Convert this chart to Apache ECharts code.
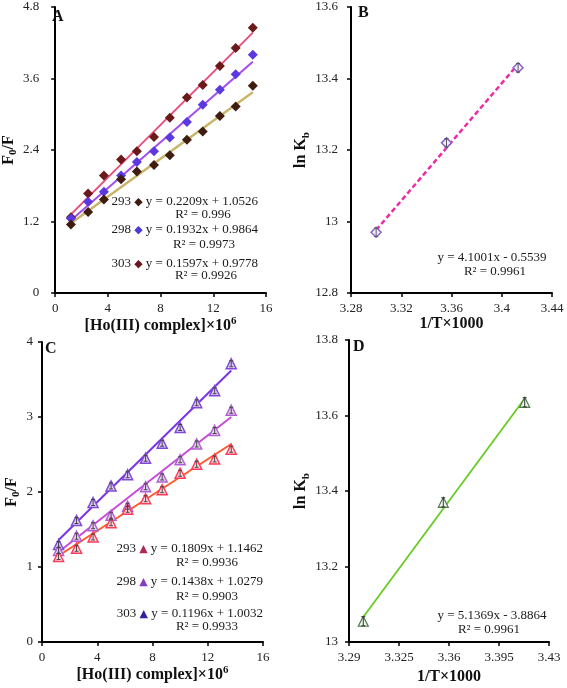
<!DOCTYPE html>
<html>
<head>
<meta charset="utf-8">
<style>html,body{margin:0;padding:0;background:#fff}#c{width:567px;height:688px}</style>
<script src="https://cdn.jsdelivr.net/npm/echarts@6/dist/echarts.min.js"></script>
</head>
<body>
<div id="c"></div>
<script>
// ---------- Panel A data ----------
const xA = [1.2, 2.5, 3.7, 5, 6.2, 7.5, 8.7, 10, 11.2, 12.5, 13.7, 15];
const yA293 = [1.27, 1.67, 1.97, 2.24, 2.38, 2.62, 2.94, 3.28, 3.49, 3.81, 4.11, 4.45];
const yA298 = [1.25, 1.53, 1.70, 1.97, 2.20, 2.38, 2.61, 2.87, 3.16, 3.41, 3.67, 4.00];
const yA303 = [1.15, 1.36, 1.57, 1.91, 2.04, 2.15, 2.31, 2.57, 2.71, 2.97, 3.13, 3.48];
const fitA293 = [[1.2, 1.32], [15, 4.37]];
const fitA298 = [[1.2, 1.22], [15, 3.88]];
const fitA303 = [[1.2, 1.17], [15, 3.37]];
const eqA = ['y = 0.2209x + 1.0526', 'y = 0.1932x + 0.9864', 'y = 0.1597x + 0.9778'];
const r2A = ['R² = 0.996', 'R² = 0.9973', 'R² = 0.9926'];
// ---------- Panel B data ----------
const xB = [3.300, 3.356, 3.413];
const yB = [12.97, 13.22, 13.43];
const errB = [0.012, 0.012, 0.012];
const fitB = [[3.300, 12.976], [3.413, 13.44]];
const eqB = ['y = 4.1001x - 0.5539', 'R² = 0.9961'];
// ---------- Panel C data ----------
const xC = [1.2, 2.5, 3.7, 5, 6.2, 7.5, 8.7, 10, 11.2, 12.5, 13.7];
const yC293 = [1.30, 1.62, 1.86, 2.08, 2.23, 2.45, 2.65, 2.86, 3.19, 3.35, 3.71];
const yC298 = [1.22, 1.41, 1.55, 1.69, 1.81, 2.07, 2.20, 2.43, 2.64, 2.82, 3.09];
const yC303 = [1.14, 1.25, 1.40, 1.59, 1.77, 1.91, 2.03, 2.25, 2.37, 2.44, 2.57];
const errC = [0.04, 0.04, 0.04, 0.04, 0.04, 0.04, 0.04, 0.04, 0.04, 0.04, 0.04];
const fitC293 = [[1.2, 1.36], [13.7, 3.62]];
const fitC298 = [[1.2, 1.20], [13.7, 3.00]];
const fitC303 = [[1.2, 1.15], [13.7, 2.64]];
const eqC = ['y = 0.1809x + 1.1462', 'y = 0.1438x + 1.0279', 'y = 0.1196x + 1.0032'];
const r2C = ['R² = 0.9936', 'R² = 0.9903', 'R² = 0.9933'];
// ---------- Panel D data ----------
const xD = [3.300, 3.356, 3.413];
const yD = [13.055, 13.37, 13.635];
const errD = [0.012, 0.012, 0.012];
const fitD = [[3.300, 13.066], [3.413, 13.645]];
const eqD = ['y = 5.1369x - 3.8864', 'R² = 0.9961'];
const temps = ['293', '298', '303'];

const FF = 'Liberation Serif, Times New Roman, serif';
const zip = (xs, ys) => xs.map((x, i) => [x, ys[i]]);

function xAx(gi, min, max, interval, gap, nameRich) {
  return {
    gridIndex: gi, type: 'value', min, max, interval,
    name: nameRich, nameLocation: 'middle', nameGap: gap,
    nameTextStyle: {
      rich: {
        m: {fontFamily: FF, fontWeight: 'bold', fontSize: 16, color: '#111', lineHeight: 20},
        p: {fontFamily: FF, fontWeight: 'bold', fontSize: 11, color: '#111', lineHeight: 20, verticalAlign: 'top'}
      }
    },
    axisLine: {show: true, onZero: false, lineStyle: {color: '#000', width: 2}},
    axisTick: {show: true, length: 4, lineStyle: {color: '#000', width: 1.5}},
    splitLine: {show: false},
    axisLabel: {fontFamily: FF, fontSize: 13, color: '#222', margin: 9}
  };
}
function yAx(gi, min, max, interval, gap, nameRich, lblMargin) {
  return {
    gridIndex: gi, type: 'value', min, max, interval,
    name: nameRich, nameLocation: 'middle', nameGap: gap, nameRotate: 90,
    nameTextStyle: {
      rich: {
        m: {fontFamily: FF, fontWeight: 'bold', fontSize: 16, color: '#111', lineHeight: 20},
        s: {fontFamily: FF, fontWeight: 'bold', fontSize: 11, color: '#111', lineHeight: 20, verticalAlign: 'bottom'}
      }
    },
    axisLine: {show: true, onZero: false, lineStyle: {color: '#000', width: 2}},
    axisTick: {show: true, length: 4, lineStyle: {color: '#000', width: 1.5}},
    splitLine: {show: false},
    axisLabel: {fontFamily: FF, fontSize: 13, color: '#222', margin: lblMargin}
  };
}
function pts(gi, xs, ys, symbol, size, fill, stroke, bw) {
  return {
    type: 'scatter', xAxisIndex: gi, yAxisIndex: gi, data: zip(xs, ys),
    symbol, symbolSize: size, z: 4,
    itemStyle: {color: fill, borderColor: stroke, borderWidth: bw, opacity: 1}
  };
}
function fit(gi, data, color, width, type) {
  return {
    type: 'line', xAxisIndex: gi, yAxisIndex: gi, data, showSymbol: false, symbol: 'none',
    lineStyle: {color, width, type: type || 'solid'}, z: 3, silent: true
  };
}
function errs(gi, xs, ys, es, color) {
  return {
    type: 'custom', xAxisIndex: gi, yAxisIndex: gi, z: 6, silent: true,
    data: xs.map((x, i) => [x, ys[i] - es[i], ys[i] + es[i]]),
    renderItem: (params, api) => {
      const lo = api.coord([api.value(0), api.value(1)]);
      const hi = api.coord([api.value(0), api.value(2)]);
      return {type: 'group', children: [
        {type: 'line', shape: {x1: lo[0], y1: lo[1], x2: hi[0], y2: hi[1]}, style: {stroke: color, lineWidth: 1}},
        {type: 'line', shape: {x1: lo[0] - 2, y1: lo[1], x2: lo[0] + 2, y2: lo[1]}, style: {stroke: color, lineWidth: 1}},
        {type: 'line', shape: {x1: hi[0] - 2, y1: hi[1], x2: hi[0] + 2, y2: hi[1]}, style: {stroke: color, lineWidth: 1}}
      ]};
    }
  };
}

function txt(x, y, text, align, extra) {
  return {type: 'text', x, y, z: 20, style: Object.assign({
    text, fontFamily: FF, fontSize: 13, fill: '#1a1a1a', align: align, verticalAlign: 'middle'
  }, extra || {})};
}
function letter(x, y, t) {
  return {type: 'text', x, y, z: 20, style: {text: t, fontFamily: FF, fontSize: 16, fontWeight: 'bold', fill: '#111', align: 'left', verticalAlign: 'middle'}};
}
function legLine(xr, y, t, sym, symColor, eq) {
  return {type: 'text', x: xr, y, z: 20, style: {
    text: t + ' {k|' + sym + '} ' + eq, fontFamily: FF, fontSize: 13, fill: '#1a1a1a',
    align: 'right', verticalAlign: 'middle',
    rich: {k: {fontFamily: 'DejaVu Sans', fontSize: 11, fill: symColor}}
  }};
}

const symA = ['#3e1a10', '#4b3ad8', '#6a1820'];
const symC = ['#b02850', '#8a3cc0', '#34209a'];

const graphic = [
  letter(52, 17, 'A'), letter(358, 13, 'B'), letter(45, 349, 'C'), letter(353, 347, 'D'),
  legLine(258, 202, temps[0], '◆', symA[0], eqA[0]),
  txt(203, 215, r2A[0], 'center'),
  legLine(258, 230, temps[1], '◆', symA[1], eqA[1]),
  txt(204, 245, r2A[1], 'center'),
  legLine(258, 264, temps[2], '◆', symA[2], eqA[2]),
  txt(206, 276, r2A[2], 'center'),
  txt(492, 258, eqB[0], 'center'),
  txt(495, 272, eqB[1], 'center'),
  legLine(263, 549, temps[0], '▲', symC[0], eqC[0]),
  txt(207, 563, r2C[0], 'center'),
  legLine(263, 582, temps[1], '▲', symC[1], eqC[1]),
  txt(207, 597, r2C[1], 'center'),
  legLine(263, 614, temps[2], '▲', symC[2], eqC[2]),
  txt(207, 627, r2C[2], 'center'),
  txt(492, 616, eqD[0], 'center'),
  txt(489, 630, eqD[1], 'center')
];

const xTitleHo = '{m|[Ho(III) complex]×10}{p|6}';
const xTitleT = '{m|1/T×1000}';

const option = {
  backgroundColor: '#fff',
  animation: false,
  grid: [
    {left: 49, top: 7, width: 217, height: 286},
    {left: 351, top: 7, width: 201, height: 286},
    {left: 42, top: 342, width: 221, height: 300},
    {left: 349, top: 340, width: 200, height: 302}
  ],
  xAxis: [
    xAx(0, 0, 16, 4, 20, xTitleHo),
    xAx(1, 3.28, 3.44, 0.04, 20, xTitleT),
    xAx(2, 0, 16, 4, 21, xTitleHo),
    xAx(3, 3.29, 3.43, 0.035, 25, xTitleT)
  ],
  yAxis: [
    yAx(0, 0, 4.8, 1.2, 30, '{m|F}{s|0}{m|/F}', 16),
    yAx(1, 12.8, 13.6, 0.2, 36, '{m|ln K}{s|b}', 13),
    yAx(2, 0, 4, 1, 20, '{m|F}{s|0}{m|/F}', 9),
    yAx(3, 13, 13.8, 0.2, 37, '{m|ln K}{s|b}', 11)
  ],
  series: [
    // A
    fit(0, fitA293, '#e8507c', 2),
    fit(0, fitA298, '#a44cf0', 2),
    fit(0, fitA303, '#c9b46a', 2.5),
    pts(0, xA, yA293, 'diamond', 10, '#6a1a1a', '#6a1a1a', 0),
    pts(0, xA, yA298, 'diamond', 10, '#5a3ae0', '#5a3ae0', 0),
    pts(0, xA, yA303, 'diamond', 10, '#3e1c10', '#3e1c10', 0),
    // B
    fit(1, fitB, '#ee2aa6', 2.5, [5, 3]),
    pts(1, xB, yB, 'diamond', 10, '#f4f0fa', '#8a62c8', 1.5),
    errs(1, xB, yB, errB, '#555'),
    // C
    fit(2, fitC293, '#7a34e6', 2),
    fit(2, fitC298, '#c84ad8', 2),
    fit(2, fitC303, '#ff5a2a', 2),
    pts(2, xC, yC293, 'triangle', 10, '#ddd0f4', '#8048d8', 1.5),
    pts(2, xC, yC298, 'triangle', 10, '#ecd4f4', '#b060d4', 1.5),
    pts(2, xC, yC303, 'triangle', 10, '#ffe0e4', '#ff3a5a', 1.5),
    errs(2, xC, yC293, errC, '#444'),
    errs(2, xC, yC298, errC, '#444'),
    errs(2, xC, yC303, errC, '#444'),
    // D
    fit(3, fitD, '#66cc22', 1.8),
    pts(3, xD, yD, 'triangle', 10, '#f0f6ec', '#4c7a4c', 1.2),
    errs(3, xD, yD, errD, '#333')
  ],
  graphic
};

const chart = echarts.init(document.getElementById('c'), null, {renderer: 'canvas'});
chart.setOption(option);
</script>
</body>
</html>
